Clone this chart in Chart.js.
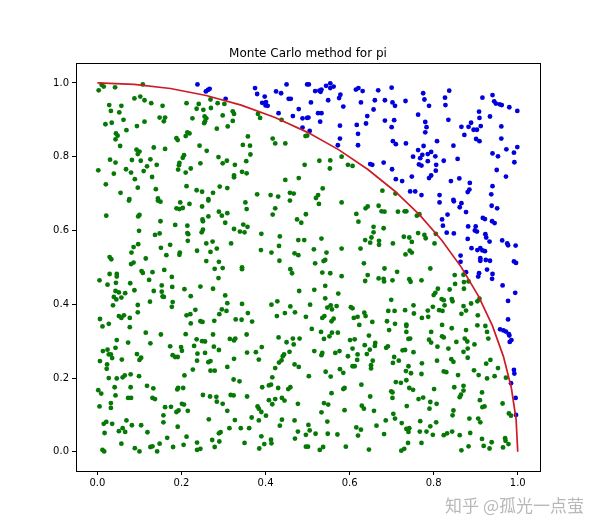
<!DOCTYPE html>
<html>
<head>
<meta charset="utf-8">
<script src="https://cdn.jsdelivr.net/npm/chart.js@4.4.1/dist/chart.umd.min.js"></script>
<style>
html, body { margin: 0; padding: 0; background: #fff; }
</style>
</head>
<body>
<canvas id="pi-chart" width="600" height="530"></canvas>
<script>
const titleText = 'Monte Carlo method for pi';
const watermark = '知乎 @孤光一点萤';
const xTicks = [0.0, 0.2, 0.4, 0.6, 0.8, 1.0];
const yTicks = [0.0, 0.2, 0.4, 0.6, 0.8, 1.0];

// quarter circle, read every 5 degrees
const arcX = [0, 0.0872, 0.1736, 0.2588, 0.342, 0.4226, 0.5, 0.5736, 0.6428, 0.7071,
  0.766, 0.8192, 0.866, 0.9063, 0.9397, 0.9659, 0.9848, 0.9962, 1];
const arcY = [1, 0.9962, 0.9848, 0.9659, 0.9397, 0.9063, 0.866, 0.8192, 0.766, 0.7071,
  0.6428, 0.5736, 0.5, 0.4226, 0.342, 0.2588, 0.1736, 0.0872, 0];

// points inside the circle (green)
const insidePoints = [
  [0.01,0.995],[0.015,0.99],[0.003,0.98],[0.042,0.988],[0.108,0.996],[0.088,0.958],[0.102,0.963],
  [0.112,0.953],[0.128,0.945],[0.155,0.938],[0.028,0.94],[0.057,0.938],[0.032,0.924],[0.052,0.92],
  [0.062,0.9],[0.019,0.888],[0.034,0.892],[0.094,0.883],[0.112,0.895],[0.069,0.872],[0.148,0.906],
  [0.161,0.906],[0.158,0.896],[0.044,0.863],[0.048,0.857],[0.043,0.847],[0.054,0.829],[0.093,0.819],
  [0.1,0.814],[0.096,0.807],[0.134,0.825],[0.161,0.821],[0.03,0.792],[0.043,0.784],[0.082,0.791],
  [0.103,0.789],[0.126,0.793],[0.118,0.774],[0.141,0.778],[0.002,0.763],[0.039,0.754],[0.068,0.766],
  [0.08,0.757],[0.11,0.761],[0.089,0.739],[0.13,0.745],[0.02,0.725],[0.096,0.716],[0.055,0.702],
  [0.139,0.712],[0.076,0.685],[0.144,0.687],
  [0.212,0.945],[0.236,0.93],[0.241,0.943],[0.252,0.927],[0.269,0.955],[0.27,0.932],[0.286,0.945],
  [0.302,0.943],[0.322,0.923],[0.325,0.916],[0.298,0.912],[0.226,0.904],[0.255,0.909],[0.259,0.904],
  [0.256,0.896],[0.254,0.891],[0.322,0.897],[0.31,0.882],[0.284,0.876],[0.214,0.866],[0.219,0.863],
  [0.21,0.856],[0.188,0.85],[0.191,0.845],[0.358,0.855],[0.346,0.832],[0.363,0.83],[0.243,0.83],
  [0.26,0.816],[0.206,0.804],[0.203,0.797],[0.195,0.783],[0.194,0.777],[0.192,0.765],[0.222,0.768],
  [0.21,0.757],[0.245,0.782],[0.288,0.799],[0.298,0.782],[0.308,0.789],[0.327,0.778],[0.354,0.788],
  [0.364,0.806],[0.344,0.759],[0.355,0.755],[0.325,0.749],[0.325,0.744],[0.212,0.72],[0.236,0.709],
  [0.249,0.705],[0.275,0.702],[0.291,0.719],[0.309,0.715],[0.38,0.698],[0.412,0.696],[0.43,0.692],
  [0.458,0.702],[0.467,0.7],[0.447,0.737],[0.479,0.742],[0.493,0.778],[0.417,0.849],[0.423,0.836],
  [0.447,0.836],[0.495,0.856],[0.382,0.916],[0.387,0.905],[0.438,0.9],[0.264,0.685],
  [0.499,0.857],[0.528,0.789],[0.554,0.79],[0.553,0.768],[0.581,0.8],[0.596,0.778],[0.607,0.775],
  [0.536,0.714],[0.525,0.696],[0.52,0.688],[0.678,0.708],[0.709,0.7],
  [0.021,0.64],[0.075,0.681],[0.144,0.681],[0.15,0.678],[0.097,0.638],[0.1,0.642],[0.099,0.599],
  [0.15,0.625],[0.137,0.588],[0.148,0.592],[0.185,0.615],[0.188,0.66],[0.195,0.658],[0.203,0.661],
  [0.197,0.676],[0.219,0.672],[0.249,0.665],[0.264,0.681],[0.25,0.63],[0.251,0.625],[0.264,0.638],
  [0.214,0.613],[0.214,0.593],[0.216,0.59],[0.215,0.572],[0.251,0.602],[0.248,0.595],[0.289,0.651],
  [0.296,0.64],[0.309,0.647],[0.304,0.621],[0.325,0.604],[0.339,0.597],[0.347,0.616],[0.357,0.61],
  [0.35,0.595],[0.352,0.676],[0.355,0.658],[0.39,0.591],[0.417,0.643],[0.423,0.66],[0.458,0.681],
  [0.475,0.63],[0.485,0.621],[0.496,0.644],[0.434,0.584],[0.432,0.558],[0.414,0.54],[0.433,0.518],
  [0.389,0.547],[0.318,0.565],[0.259,0.565],[0.274,0.57],[0.284,0.551],[0.269,0.542],[0.237,0.545],
  [0.259,0.517],[0.289,0.515],[0.279,0.496],[0.298,0.498],[0.288,0.471],[0.344,0.5],[0.344,0.495],
  [0.478,0.574],[0.492,0.574],[0.469,0.538],[0.478,0.533],[0.459,0.495],[0.463,0.484],[0.48,0.436],
  [0.173,0.561],[0.151,0.553],[0.164,0.533],[0.196,0.54],[0.195,0.534],[0.097,0.563],[0.086,0.555],
  [0.081,0.54],[0.115,0.524],[0.029,0.528],[0.033,0.522],[0.08,0.509],[0.086,0.513],[0.105,0.49],
  [0.108,0.485],[0.131,0.487],[0.159,0.493],[0.029,0.482],[0.046,0.482],[0.046,0.475],[0.005,0.465],
  [0.024,0.453],[0.044,0.458],[0.078,0.457],[0.123,0.466],[0.153,0.451],[0.177,0.474],[0.178,0.447],
  [0.134,0.436],[0.153,0.434],[0.155,0.421],[0.158,0.42],[0.043,0.436],[0.051,0.432],[0.066,0.43],
  [0.039,0.42],[0.045,0.413],[0.057,0.418],[0.088,0.438],[0.037,0.397],[0.096,0.398],[0.125,0.407],
  [0.179,0.406],[0.177,0.393],[0.207,0.441],[0.222,0.422],[0.245,0.448],[0.275,0.442],[0.304,0.424],
  [0.309,0.403],[0.296,0.386],[0.29,0.373],[0.307,0.382],[0.233,0.385],[0.212,0.37],[0.221,0.373],
  [0.096,0.378],[0.051,0.368],[0.057,0.363],[0.063,0.37],[0.077,0.363],[0.006,0.36],[0.012,0.34],
  [0.027,0.347],[0.077,0.338],[0.115,0.323],[0.151,0.318],[0.222,0.348],[0.245,0.354],[0.25,0.352],
  [0.278,0.355],[0.329,0.359],[0.343,0.358],[0.358,0.376],[0.368,0.353],[0.344,0.401],[0.355,0.318],
  [0.414,0.399],[0.428,0.408],[0.459,0.394],[0.47,0.378],[0.446,0.376],[0.427,0.368],[0.496,0.366],
  [0.275,0.318],[0.21,0.319],
  [0.527,0.672],[0.581,0.676],[0.616,0.645],[0.621,0.624],[0.638,0.66],[0.643,0.665],[0.669,0.667],
  [0.676,0.652],[0.683,0.651],[0.715,0.651],[0.731,0.652],[0.735,0.652],[0.76,0.64],[0.766,0.644],
  [0.657,0.61],[0.657,0.595],[0.681,0.606],[0.652,0.581],[0.637,0.574],[0.649,0.567],[0.67,0.572],
  [0.67,0.561],[0.703,0.565],[0.729,0.583],[0.742,0.581],[0.748,0.569],[0.763,0.593],[0.778,0.588],
  [0.781,0.579],[0.802,0.565],[0.805,0.591],[0.533,0.578],[0.515,0.549],[0.545,0.54],[0.581,0.551],
  [0.626,0.551],[0.542,0.52],[0.538,0.517],[0.518,0.511],[0.743,0.545],[0.748,0.54],[0.733,0.535],
  [0.634,0.511],[0.683,0.497],[0.713,0.488],[0.643,0.479],[0.637,0.463],[0.669,0.47],[0.681,0.469],
  [0.682,0.462],[0.702,0.465],[0.742,0.468],[0.745,0.461],[0.771,0.465],[0.792,0.497],[0.535,0.486],
  [0.554,0.484],[0.581,0.476],[0.542,0.45],[0.516,0.439],[0.573,0.429],[0.542,0.416],[0.506,0.399],
  [0.555,0.397],[0.569,0.395],[0.547,0.391],[0.558,0.386],[0.54,0.368],[0.535,0.363],[0.562,0.361],
  [0.557,0.354],[0.603,0.392],[0.607,0.389],[0.635,0.377],[0.638,0.368],[0.619,0.366],[0.61,0.363],
  [0.623,0.344],[0.654,0.352],[0.699,0.412],[0.707,0.382],[0.692,0.382],[0.732,0.384],[0.752,0.397],
  [0.753,0.375],[0.772,0.363],[0.786,0.383],[0.787,0.366],[0.798,0.393],[0.8,0.425],[0.804,0.431],
  [0.81,0.442],[0.819,0.414],[0.824,0.411],[0.826,0.397],[0.813,0.384],[0.821,0.382],[0.838,0.44],
  [0.851,0.455],[0.843,0.414],[0.845,0.408],[0.85,0.479],[0.871,0.48],[0.872,0.46],[0.883,0.462],
  [0.872,0.442],[0.871,0.395],[0.866,0.374],[0.877,0.383],[0.889,0.402],[0.904,0.408],[0.909,0.415],
  [0.905,0.37],[0.82,0.344],[0.843,0.335],[0.877,0.33],[0.904,0.343],[0.923,0.341],[0.927,0.325],
  [0.708,0.347],[0.735,0.345],[0.735,0.341],[0.689,0.354],[0.694,0.33],[0.735,0.325],[0.794,0.325],
  [0.532,0.325],[0.558,0.323],[0.572,0.323],[0.51,0.333],
  [0.046,0.303],[0.073,0.296],[0.126,0.294],[0.013,0.273],[0.024,0.277],[0.043,0.282],[0.027,0.264],
  [0.032,0.264],[0.035,0.254],[0.006,0.246],[0.023,0.237],[0.022,0.225],[0.058,0.25],[0.094,0.265],
  [0.104,0.255],[0.1,0.249],[0.027,0.2],[0.046,0.199],[0.06,0.202],[0.065,0.207],[0.079,0.21],
  [0.099,0.205],[0.041,0.175],[0.079,0.175],[0.118,0.179],[0.133,0.172],[0.002,0.167],[0.009,0.158],
  [0.043,0.153],[0.073,0.146],[0.08,0.146],[0.131,0.146],[0.137,0.143],[0.032,0.132],[0.005,0.123],
  [0.032,0.119],[0.069,0.085],[0.015,0.076],[0.021,0.081],[0.035,0.076],[0.06,0.064],[0.051,0.056],
  [0.066,0.054],[0.082,0.072],[0.104,0.072],[0.119,0.053],[0.017,0.051],[0.057,0.022],[0.089,0.01],
  [0.1,0.001],[0.012,0.005],[0.016,0.001],[0.126,0.013],[0.131,0.015],[0.142,0.001],[0.148,0.022],
  [0.166,0.038],[0.18,0.013],[0.205,0.019],[0.212,0.041],[0.191,0.068],[0.157,0.08],[0.157,0.099],
  [0.161,0.121],[0.175,0.122],[0.188,0.108],[0.193,0.112],[0.201,0.13],[0.206,0.128],[0.215,0.111],
  [0.19,0.169],[0.192,0.173],[0.204,0.173],[0.207,0.207],[0.227,0.223],[0.237,0.247],[0.238,0.266],
  [0.256,0.268],[0.264,0.243],[0.269,0.246],[0.269,0.22],[0.279,0.22],[0.173,0.286],[0.179,0.262],
  [0.185,0.257],[0.191,0.257],[0.199,0.284],[0.201,0.274],[0.23,0.287],[0.236,0.305],[0.249,0.3],
  [0.256,0.299],[0.277,0.285],[0.289,0.276],[0.315,0.306],[0.325,0.302],[0.328,0.307],[0.325,0.252],
  [0.309,0.23],[0.324,0.196],[0.338,0.191],[0.356,0.269],[0.377,0.27],[0.384,0.25],[0.391,0.284],
  [0.251,0.154],[0.268,0.15],[0.283,0.149],[0.284,0.136],[0.298,0.13],[0.309,0.111],[0.317,0.154],
  [0.324,0.153],[0.356,0.15],[0.381,0.123],[0.384,0.117],[0.39,0.108],[0.367,0.093],[0.384,0.085],
  [0.401,0.098],[0.392,0.175],[0.408,0.18],[0.413,0.182],[0.416,0.202],[0.408,0.14],[0.416,0.129],
  [0.423,0.143],[0.43,0.173],[0.439,0.146],[0.445,0.139],[0.454,0.17],[0.459,0.175],[0.477,0.13],
  [0.423,0.227],[0.432,0.242],[0.438,0.248],[0.441,0.259],[0.444,0.264],[0.431,0.31],[0.45,0.297],
  [0.465,0.307],[0.481,0.307],[0.467,0.291],[0.457,0.271],[0.469,0.237],[0.479,0.23],[0.265,0.088],
  [0.314,0.064],[0.327,0.086],[0.341,0.064],[0.361,0.064],[0.289,0.05],[0.293,0.053],[0.273,0.032],
  [0.29,0.028],[0.279,0.013],[0.237,0.025],[0.237,0.005],[0.245,0.008],[0.35,0.024],[0.39,0.042],
  [0.385,0.009],[0.397,0.021],[0.413,0.033],[0.414,0.023],[0.434,0.071],[0.439,0.087],[0.469,0.085],
  [0.477,0.055],[0.47,0.036],[0.496,0.046],[0.496,0.014],
  [0.539,0.306],[0.552,0.313],[0.601,0.303],[0.612,0.305],[0.646,0.315],[0.661,0.295],[0.66,0.287],
  [0.648,0.277],[0.636,0.289],[0.516,0.273],[0.533,0.262],[0.535,0.268],[0.566,0.268],[0.576,0.273],
  [0.607,0.28],[0.596,0.259],[0.619,0.264],[0.618,0.249],[0.641,0.265],[0.655,0.247],[0.607,0.232],
  [0.612,0.232],[0.651,0.235],[0.651,0.226],[0.687,0.282],[0.691,0.286],[0.726,0.275],[0.732,0.276],
  [0.752,0.27],[0.74,0.306],[0.744,0.307],[0.706,0.257],[0.717,0.247],[0.703,0.241],[0.772,0.24],
  [0.74,0.232],[0.789,0.304],[0.794,0.296],[0.809,0.285],[0.82,0.313],[0.824,0.31],[0.835,0.28],
  [0.854,0.298],[0.874,0.307],[0.88,0.299],[0.871,0.271],[0.881,0.28],[0.897,0.291],[0.93,0.307],
  [0.808,0.247],[0.842,0.251],[0.847,0.244],[0.881,0.255],[0.935,0.249],[0.925,0.239],[0.953,0.227],
  [0.503,0.205],[0.543,0.217],[0.555,0.204],[0.577,0.224],[0.585,0.214],[0.628,0.182],[0.588,0.173],
  [0.585,0.17],[0.557,0.159],[0.649,0.15],[0.629,0.125],[0.634,0.117],[0.658,0.111],[0.539,0.132],
  [0.549,0.128],[0.533,0.107],[0.547,0.082],[0.588,0.113],[0.502,0.073],[0.505,0.058],[0.519,0.049],
  [0.548,0.049],[0.571,0.047],[0.616,0.066],[0.627,0.06],[0.62,0.044],[0.591,0.014],[0.529,0.005],
  [0.537,0.013],[0.501,0.014],[0.646,0.006],[0.664,0.071],[0.682,0.048],[0.686,0.085],[0.704,0.103],
  [0.708,0.09],[0.724,0.078],[0.735,0.062],[0.742,0.064],[0.74,0.054],[0.739,0.024],[0.723,0.003],
  [0.73,0.008],[0.771,0.024],[0.767,0.055],[0.783,0.055],[0.798,0.046],[0.806,0.08],[0.792,0.069],
  [0.768,0.083],[0.699,0.164],[0.702,0.161],[0.702,0.146],[0.71,0.189],[0.722,0.187],[0.735,0.194],
  [0.742,0.173],[0.751,0.168],[0.736,0.124],[0.764,0.143],[0.775,0.147],[0.792,0.135],[0.79,0.117],
  [0.807,0.13],[0.801,0.17],[0.734,0.219],[0.746,0.213],[0.771,0.211],[0.824,0.218],[0.83,0.216],
  [0.858,0.208],[0.896,0.221],[0.907,0.208],[0.927,0.199],[0.945,0.205],[0.972,0.201],[0.849,0.175],
  [0.871,0.179],[0.871,0.166],[0.865,0.155],[0.862,0.148],[0.915,0.161],[0.91,0.14],[0.921,0.123],
  [0.916,0.121],[0.964,0.131],[0.847,0.112],[0.845,0.099],[0.885,0.09],[0.906,0.09],[0.911,0.08],
  [0.979,0.104],[0.984,0.098],[0.824,0.045],[0.832,0.05],[0.844,0.055],[0.862,0.045],[0.887,0.051],
  [0.915,0.035],[0.933,0.009],[0.938,0.026],[0.919,0.016],[0.866,0.004],[0.883,0.015],[0.97,0.037],
  [0.971,0.03],[0.978,0.021],[0.965,0.012]
];

// points outside the circle (blue)
const outsidePoints = [
  [0.238,0.996],[0.258,0.977],[0.263,0.981],[0.267,0.984],[0.305,0.957],[0.375,0.986],[0.38,0.97],
  [0.398,0.963],[0.392,0.946],[0.401,0.948],[0.405,0.938],[0.4,0.939],[0.425,0.977],[0.437,0.972],
  [0.45,0.996],[0.455,0.957],[0.46,0.957],[0.431,0.918],[0.465,0.91],[0.479,0.929],[0.488,0.904],
  [0.499,0.905],[0.499,0.996],[0.488,0.879],
  [0.503,0.996],[0.508,0.947],[0.502,0.906],[0.505,0.87],[0.518,0.978],[0.528,0.979],[0.533,0.982],
  [0.531,0.976],[0.544,0.992],[0.554,0.999],[0.554,0.986],[0.562,0.99],[0.549,0.953],[0.575,0.959],
  [0.578,0.968],[0.585,0.936],[0.525,0.918],[0.533,0.918],[0.53,0.895],[0.577,0.884],[0.577,0.849],
  [0.572,0.831],[0.615,0.982],[0.621,0.986],[0.631,0.978],[0.668,0.98],[0.7,0.987],[0.627,0.947],
  [0.66,0.953],[0.684,0.953],[0.702,0.947],[0.708,0.938],[0.733,0.951],[0.657,0.928],[0.642,0.91],
  [0.617,0.886],[0.639,0.89],[0.62,0.862],[0.62,0.831],[0.684,0.898],[0.706,0.899],[0.7,0.88],
  [0.703,0.842],[0.71,0.834],[0.734,0.836],[0.775,0.972],[0.778,0.955],[0.789,0.938],[0.763,0.914],
  [0.78,0.894],[0.783,0.88],[0.78,0.866],[0.776,0.829],[0.763,0.818],[0.773,0.805],[0.768,0.796],
  [0.751,0.8],[0.786,0.807],[0.794,0.813],[0.804,0.801],[0.786,0.788],[0.806,0.778],[0.765,0.779],
  [0.771,0.776],[0.808,0.842],[0.824,0.789],[0.805,0.762],[0.794,0.749],[0.789,0.742],[0.827,0.96],
  [0.828,0.94],[0.837,0.979],[0.835,0.9],[0.847,0.83],[0.857,0.794],[0.841,0.734],[0.861,0.741],
  [0.866,0.881],[0.873,0.859],[0.883,0.881],[0.889,0.892],[0.895,0.873],[0.903,0.873],[0.912,0.883],
  [0.908,0.922],[0.909,0.905],[0.916,0.96],[0.901,0.848],[0.909,0.842],[0.934,0.909],[0.94,0.967],
  [0.944,0.95],[0.948,0.944],[0.957,0.942],[0.962,0.94],[0.98,0.934],[0.999,0.924],[0.961,0.882],
  [0.961,0.849],[0.973,0.82],[0.999,0.826],[0.991,0.811],[0.94,0.809],[0.953,0.801],[0.992,0.785],
  [0.95,0.764],[0.972,0.746],[0.94,0.72],[0.937,0.698],[0.886,0.729],[0.885,0.711],[0.881,0.704],
  [0.814,0.696],[0.847,0.683],[0.649,0.78],[0.654,0.778],[0.681,0.784],[0.701,0.766],[0.71,0.739],
  [0.725,0.734],[0.748,0.746],[0.744,0.706],[0.756,0.706],[0.771,0.696],
  [0.814,0.676],[0.848,0.679],[0.866,0.674],[0.862,0.663],[0.877,0.65],[0.938,0.667],[0.951,0.66],
  [0.833,0.643],[0.82,0.63],[0.822,0.613],[0.831,0.594],[0.848,0.592],[0.917,0.634],[0.922,0.631],
  [0.939,0.625],[0.945,0.62],[0.882,0.611],[0.9,0.611],[0.898,0.6],[0.903,0.597],[0.881,0.577],
  [0.923,0.59],[0.925,0.581],[0.933,0.57],[0.963,0.573],[0.975,0.565],[0.977,0.56],[0.995,0.559],
  [0.89,0.552],[0.904,0.547],[0.911,0.552],[0.916,0.546],[0.922,0.544],[0.911,0.525],[0.911,0.518],
  [0.924,0.52],[0.934,0.518],[0.864,0.532],[0.864,0.515],[0.991,0.516],[0.996,0.512],[0.927,0.494],
  [0.94,0.482],[0.939,0.469],[0.908,0.484],[0.906,0.475],[0.877,0.487],[0.964,0.451],[0.994,0.431],
  [0.977,0.409],[0.977,0.359],[0.958,0.332],[0.966,0.329],[0.972,0.326],[0.979,0.319],
  [0.98,0.315],[0.981,0.298],[0.985,0.303],[0.991,0.222],[0.992,0.212],[0.984,0.186],[0.995,0.146],
  [0.996,0.1]
];

const framePlugin = {
  id: 'frame',
  afterDraw(chart) {
    const { ctx, chartArea } = chart;
    ctx.save();
    ctx.strokeStyle = '#000';
    ctx.lineWidth = 1;
    ctx.strokeRect(Math.round(chartArea.left) + 0.5, Math.round(chartArea.top) + 0.5,
      Math.round(chartArea.right - chartArea.left), Math.round(chartArea.bottom - chartArea.top));
    ctx.fillStyle = '#000';
    ctx.font = '12px "DejaVu Sans"';
    ctx.textAlign = 'center';
    ctx.textBaseline = 'alphabetic';
    ctx.fillText(titleText, (chartArea.left + chartArea.right) / 2, 57);
    ctx.font = '17px "Noto Sans CJK SC"';
    ctx.textAlign = 'right';
    ctx.textBaseline = 'middle';
    ctx.lineWidth = 3;
    ctx.strokeStyle = 'rgba(255,255,255,0.9)';
    ctx.strokeText(watermark, 584, 506);
    ctx.fillStyle = '#b8b8b8';
    ctx.fillText(watermark, 584, 506);
    ctx.restore();
  }
};

const tickFont = { family: 'DejaVu Sans', size: 10 };

new Chart(document.getElementById('pi-chart'), {
  type: 'scatter',
  data: {
    datasets: [
      {
        type: 'line',
        data: arcX.map((x, i) => ({ x: x, y: arcY[i] })),
        borderColor: '#cc1c26',
        borderWidth: 1.7,
        pointRadius: 0,
        fill: false,
        tension: 0,
        order: 0
      },
      {
        data: insidePoints.map(p => ({ x: p[0], y: p[1] })),
        backgroundColor: '#067806',
        borderWidth: 0,
        pointRadius: 2.4,
        order: 1
      },
      {
        data: outsidePoints.map(p => ({ x: p[0], y: p[1] })),
        backgroundColor: '#0000dc',
        borderWidth: 0,
        pointRadius: 2.4,
        order: 1
      }
    ]
  },
  options: {
    responsive: false,
    animation: false,
    devicePixelRatio: 1,
    layout: { padding: { left: 0, right: 60, top: 63, bottom: 0 } },
    plugins: {
      legend: { display: false },
      tooltip: { enabled: false },
      title: { display: false }
    },
    scales: {
      x: {
        type: 'linear',
        min: -0.051,
        max: 1.053,
        afterBuildTicks: s => { s.ticks = xTicks.map(v => ({ value: v })); },
        afterFit: s => { s.height = 59; },
        ticks: { callback: v => v.toFixed(1), color: '#000', font: tickFont, padding: 2, maxRotation: 0, autoSkip: false },
        grid: { drawOnChartArea: false, drawTicks: true, tickLength: 4, color: '#000' },
        border: { display: true, color: '#000' }
      },
      y: {
        type: 'linear',
        min: -0.052,
        max: 1.054,
        afterBuildTicks: s => { s.ticks = yTicks.map(v => ({ value: v })); },
        afterFit: s => { s.width = 76; },
        ticks: { callback: v => v.toFixed(1), color: '#000', font: tickFont, padding: 3, autoSkip: false },
        grid: { drawOnChartArea: false, drawTicks: true, tickLength: 4, color: '#000' },
        border: { display: true, color: '#000' }
      }
    }
  },
  plugins: [framePlugin]
});
</script>
</body>
</html>
